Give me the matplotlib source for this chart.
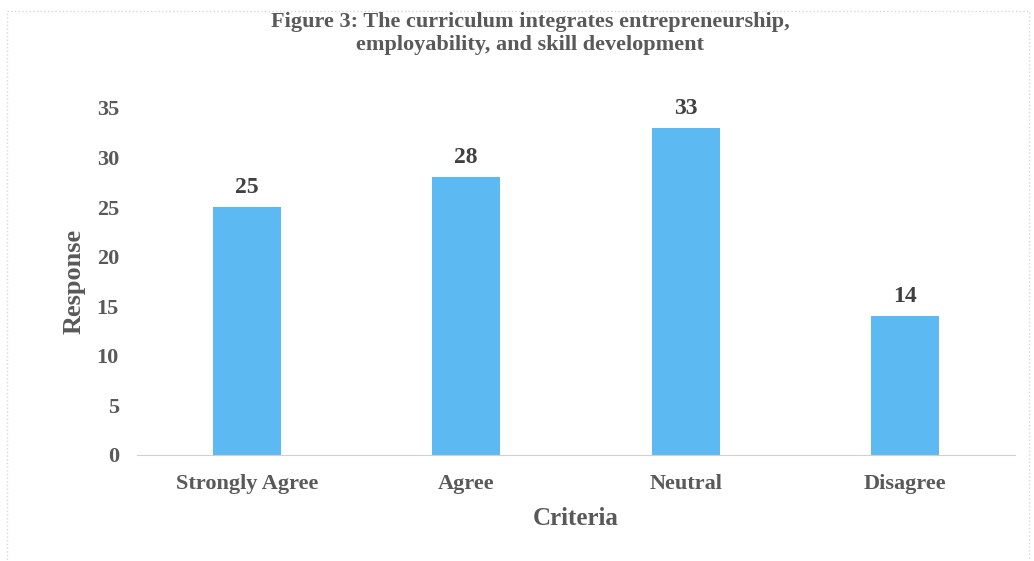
import matplotlib.pyplot as plt
from matplotlib.patches import Rectangle

categories = ['Strongly Agree', 'Agree', 'Neutral', 'Disagree']
responses = [25, 28, 33, 14]
yticks = [0, 5, 10, 15, 20, 25, 30, 35]

plt.rcParams['font.family'] = ['Liberation Serif', 'DejaVu Serif']
txt = '#595959'

fig = plt.figure(figsize=(10.34, 5.61), dpi=100)
ax = fig.add_axes([0.1325, 0.189, 0.849, 0.6185])

x = range(len(categories))
bars = ax.bar(x, responses, width=0.31, color='#5cb9f1')

for b, v in zip(bars, responses):
    ax.text(b.get_x() + b.get_width() / 2, v + 0.9, str(v), ha='center', va='bottom',
            fontsize=17, fontweight='bold', color='#404040')

ax.set_xlim(-0.5, len(categories) - 0.5)
ax.set_ylim(0, 35)
ax.set_yticks(yticks)
ax.set_xticks(list(x))
ax.set_xticklabels(categories)
ax.tick_params(axis='both', length=0, labelsize=16, labelcolor=txt)
ax.tick_params(axis='x', pad=14)
ax.tick_params(axis='y', pad=13)
for lbl in ax.get_xticklabels() + ax.get_yticklabels():
    lbl.set_fontweight('bold')

for s in ['top', 'right', 'left']:
    ax.spines[s].set_visible(False)
ax.spines['bottom'].set_color('#d0d0d0')

ax.set_ylabel('Response', fontsize=19, fontweight='bold', color=txt, labelpad=8)
ax.set_xlabel('Criteria', fontsize=18, fontweight='bold', color=txt, labelpad=9)
fig.text(0.513, 0.94, 'Figure 3: The curriculum integrates entrepreneurship,\nemployability, and skill development',
         ha='center', va='center', fontsize=16, fontweight='bold', color=txt, linespacing=1.2)

fig.patches.append(Rectangle((0.007, -0.01), 0.988, 0.99, transform=fig.transFigure,
                             fill=False, edgecolor='#d8d8d8', linewidth=1, linestyle=':'))

fig.savefig('out.png', dpi=100)
